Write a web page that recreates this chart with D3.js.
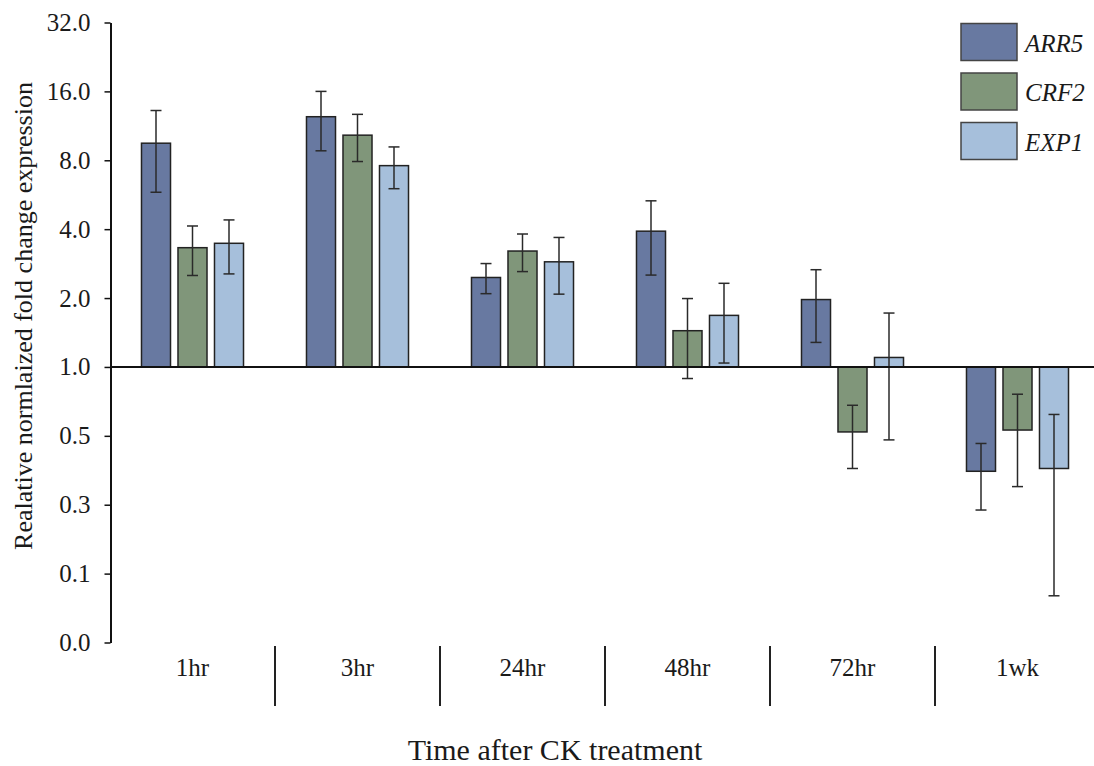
<!DOCTYPE html>
<html>
<head>
<meta charset="utf-8">
<script src="https://cdn.jsdelivr.net/npm/d3@7/dist/d3.min.js"></script>
<style>
  html, body { margin: 0; padding: 0; background: #fff; }
  svg { display: block; }
</style>
</head>
<body>
<svg id="chart" width="1094" height="766"></svg>
<script>
// Time points after cytokinin treatment
const categories = ["1hr", "3hr", "24hr", "48hr", "72hr", "1wk"];
const series = ["ARR5", "CRF2", "EXP1"];

// Mean relative fold change per gene, and the error (± SD) per point
const arr5 = [9.5, 12.4, 2.46, 3.92, 1.97, 0.35];
const arr5Err = [3.7, 3.6, 0.37, 1.4, 0.69, 0.113];
const crf2 = [3.32, 10.3, 3.21, 1.44, 0.52, 0.53];
const crf2Err = [0.81, 2.4, 0.6, 0.55, 0.16, 0.23];
const exp1 = [3.47, 7.58, 2.88, 1.68, 1.10, 0.36];
const exp1Err = [0.92, 1.57, 0.8, 0.64, 0.62, 0.26];

// Log2 axis ticks and the labels printed beside them
const yTicks = [32, 16, 8, 4, 2, 1, 0.5, 0.25, 0.125, 0.0625];
const yTickLabels = ["32.0", "16.0", "8.0", "4.0", "2.0", "1.0", "0.5", "0.3", "0.1", "0.0"];

const colors = { ARR5: "#6879a1", CRF2: "#80967a", EXP1: "#a6bfdb" };
const FONT = "'Liberation Serif', 'Times New Roman', serif";

const values = { ARR5: arr5, CRF2: crf2, EXP1: exp1 };
const errors = { ARR5: arr5Err, CRF2: crf2Err, EXP1: exp1Err };

const rows = [];
categories.forEach((c, i) => {
  series.forEach(s => rows.push({ cat: c, ser: s, v: values[s][i], e: errors[s][i] }));
});

const svg = d3.select("#chart")
  .attr("font-family", FONT)
  .style("font-family", FONT);

const x0 = d3.scaleBand().domain(categories).range([110, 1100]);
const x1 = d3.scaleBand().domain(series)
  .range([27.75, 137.25]).paddingInner(0.205).paddingOuter(0.1025);
const y = d3.scaleLog().base(2).domain([0.0625, 32]).range([642.5, 22.5]);

// Bars grow up or down from the 1.0 baseline
const base = y(1);
svg.append("g").selectAll("rect").data(rows).join("rect")
  .attr("x", d => x0(d.cat) + x1(d.ser))
  .attr("width", x1.bandwidth())
  .attr("y", d => Math.min(y(d.v), base))
  .attr("height", d => Math.abs(y(d.v) - base))
  .attr("fill", d => colors[d.ser])
  .attr("stroke", "#222")
  .attr("stroke-width", 1.5);

// Error bars
const eb = svg.append("g").attr("stroke", "#2a2a2a").attr("stroke-width", 1.5).attr("fill", "none");
const cx = d => x0(d.cat) + x1(d.ser) + x1.bandwidth() / 2;
const lo = d => y(Math.max(d.v - d.e, 0.0625));
const hi = d => y(d.v + d.e);
eb.selectAll("line.v").data(rows).join("line").attr("class", "v")
  .attr("x1", cx).attr("x2", cx).attr("y1", lo).attr("y2", hi);
eb.selectAll("line.t").data(rows).join("line").attr("class", "t")
  .attr("x1", d => cx(d) - 5.5).attr("x2", d => cx(d) + 5.5).attr("y1", hi).attr("y2", hi);
eb.selectAll("line.b").data(rows).join("line").attr("class", "b")
  .attr("x1", d => cx(d) - 5.5).attr("x2", d => cx(d) + 5.5).attr("y1", lo).attr("y2", lo);

// Baseline at 1.0
svg.append("line")
  .attr("x1", 110).attr("x2", 1094).attr("y1", base).attr("y2", base)
  .attr("stroke", "#111").attr("stroke-width", 2);

// Y axis
const yAxis = svg.append("g").attr("transform", "translate(110.5,0)")
  .call(d3.axisLeft(y).tickValues(yTicks)
    .tickFormat((d, i) => yTickLabels[i]).tickSize(6).tickSizeOuter(0).tickPadding(14));
yAxis.attr("font-family", FONT).attr("font-size", 25);
yAxis.select(".domain").attr("stroke", "#111").attr("stroke-width", 2);
yAxis.selectAll(".tick line").attr("stroke", "#111").attr("stroke-width", 1.5);
yAxis.selectAll(".tick text").attr("fill", "#1a1a1a");

// Category labels and separators
svg.append("g").selectAll("text").data(categories).join("text")
  .attr("x", d => x0(d) + x0.bandwidth() / 2)
  .attr("y", 676)
  .attr("text-anchor", "middle")
  .attr("font-size", 25)
  .attr("fill", "#1a1a1a")
  .text(d => d);
svg.append("g").selectAll("line").data(categories.slice(1)).join("line")
  .attr("x1", d => x0(d)).attr("x2", d => x0(d))
  .attr("y1", 646).attr("y2", 706)
  .attr("stroke", "#222").attr("stroke-width", 2);

// Axis titles
svg.append("text")
  .attr("x", 555).attr("y", 760)
  .attr("text-anchor", "middle")
  .attr("font-size", 30)
  .attr("fill", "#1a1a1a")
  .text("Time after CK treatment");
svg.append("text")
  .attr("transform", "translate(32,316) rotate(-90)")
  .attr("text-anchor", "middle")
  .attr("font-size", 26)
  .attr("fill", "#1a1a1a")
  .text("Realative normlaized fold change expression");

// Legend
const leg = svg.append("g").selectAll("g").data(series).join("g")
  .attr("transform", (d, i) => `translate(961,${23.5 + i * 49.5})`);
leg.append("rect")
  .attr("width", 56).attr("height", 37)
  .attr("fill", d => colors[d])
  .attr("stroke", "#444").attr("stroke-width", 1.5);
leg.append("text")
  .attr("x", 64).attr("y", 28)
  .attr("font-size", 25).attr("font-style", "italic")
  .attr("fill", "#1a1a1a")
  .text(d => d);
</script>
</body>
</html>
